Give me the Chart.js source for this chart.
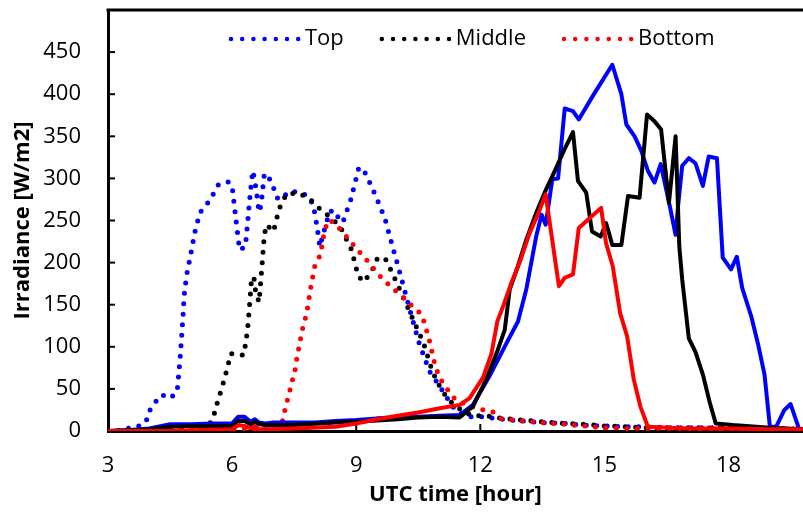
<!DOCTYPE html>
<html>
<head>
<meta charset="utf-8">
<title>Irradiance</title>
<script src="https://cdn.jsdelivr.net/npm/chart.js@4.4.1/dist/chart.umd.min.js"></script>
<style>
    html, body { margin: 0; padding: 0; background: #fff; }
    canvas { display: block; }
</style>
</head>
<body>
<canvas id="chart" width="803" height="513"></canvas>
<script>
// Axis ticks
const xTickValues = [3, 6, 9, 12, 15, 18];
const yTickValues = [0, 50, 100, 150, 200, 250, 300, 350, 400, 450];

// Dotted series (legend: Top / Middle / Bottom)
const topDotX = [3, 3.3, 3.53, 3.75, 3.92, 3.99, 4.14, 4.3, 4.5, 4.67, 4.74, 4.81, 4.84, 4.9, 5.0, 5.1, 5.22, 5.4, 5.54, 5.66, 5.9, 6.0, 6.06, 6.12, 6.18, 6.32, 6.38, 6.44, 6.5, 6.55, 6.6, 6.65, 6.7, 6.78, 6.9, 7.0, 7.08, 7.19, 7.35, 7.64, 7.83, 7.96, 8.05, 8.12, 8.22, 8.36, 8.51, 8.6, 8.7, 8.87, 9.06, 9.16, 9.28, 9.49, 9.69, 9.89, 10.1, 10.3, 10.51, 10.68, 10.8, 10.97, 11.2, 11.42, 11.74, 12.02, 12.5, 13, 13.5, 14, 14.5, 15, 15.5, 16, 16.5, 17, 17.5, 18, 18.5, 19, 19.5, 19.8];
const topDotY = [0, 0, 4, 6, 11, 23, 34, 43, 39, 46, 84, 134, 160, 185, 210, 236, 259, 270, 281, 292, 296, 291, 265, 240, 215, 219, 250, 283, 309, 297, 280, 260, 268, 306, 300, 289, 277, 275, 284, 284, 279, 269, 244, 219, 237, 261, 261, 248, 251, 275, 312, 312, 300, 277, 253, 217, 180, 143, 106, 83, 68, 57, 39, 23, 17, 17, 14, 12, 10, 9, 7, 6, 5, 5, 4, 4, 4, 3, 3, 3, 2, 2];

const midDotX = [3, 4, 5, 5.4, 5.54, 5.62, 5.72, 5.81, 5.89, 5.97, 6.28, 6.33, 6.37, 6.4, 6.45, 6.47, 6.53, 6.57, 6.65, 6.68, 6.73, 6.78, 6.83, 7.0, 7.08, 7.17, 7.32, 7.64, 7.91, 8.14, 8.4, 8.62, 8.89, 8.97, 9.05, 9.18, 9.37, 9.5, 9.69, 9.83, 10.1, 10.37, 10.63, 10.82, 10.94, 11.1, 11.3, 11.54, 11.8, 12.15, 12.5, 13, 13.5, 14, 14.5, 15, 15.5, 16, 17, 18, 19, 19.8];
const midDotY = [0, 1, 2, 4, 15, 30, 46, 61, 76, 92, 90, 105, 119, 136, 167, 183, 181, 165, 153, 170, 201, 233, 245, 237, 253, 268, 282, 282, 274, 263, 253, 242, 215, 199, 184, 177, 189, 204, 206, 192, 163, 133, 104, 74, 60, 46, 34, 25, 18, 18, 15, 13, 11, 9, 8, 6, 5, 4, 4, 3, 3, 2];

const botDotX = [3, 4, 5, 6, 6.5, 7, 7.2, 7.28, 7.36, 7.44, 7.52, 7.57, 7.63, 7.69, 7.77, 7.84, 7.88, 7.94, 8.0, 8.14, 8.19, 8.25, 8.36, 8.59, 8.8, 9.0, 9.22, 9.42, 9.63, 9.87, 10.1, 10.34, 10.59, 10.68, 10.77, 10.84, 10.91, 11.03, 11.21, 11.4, 11.7, 11.98, 12.29, 12.5, 13, 13.5, 14, 14.5, 15, 15.5, 16, 17, 18, 19, 19.8];
const botDotY = [0, 1, 1, 2, 2, 3, 8, 26, 41, 57, 72, 88, 103, 119, 134, 150, 165, 181, 196, 210, 226, 241, 251, 241, 229, 217, 205, 193, 181, 170, 160, 149, 138, 123, 107, 92, 77, 62, 49, 37, 30, 26, 23, 15, 12, 10, 8, 6, 4, 3, 3, 3, 2, 2, 1];

// Solid series (same colours, not in legend)
const topSolX = [3, 3.5, 4, 4.3, 4.5, 5, 5.5, 6.0, 6.15, 6.3, 6.45, 6.55, 6.65, 6.8, 7, 8, 8.5, 9, 9.5, 10, 10.5, 11, 11.5, 11.82, 12.22, 12.63, 12.91, 13.11, 13.35, 13.48, 13.58, 13.74, 13.88, 14.04, 14.24, 14.38, 14.72, 15.19, 15.41, 15.53, 15.73, 15.89, 16.05, 16.21, 16.36, 16.58, 16.72, 16.78, 16.88, 17.04, 17.2, 17.38, 17.52, 17.72, 17.86, 18.06, 18.2, 18.33, 18.55, 18.71, 18.87, 19.0, 19.15, 19.35, 19.5, 19.7, 19.8];
const topSolY = [0, 1, 3, 6, 8, 8, 9, 9, 17, 17, 11, 14, 10, 9, 10, 10, 12, 13, 15, 16, 17, 18, 19, 31, 65, 104, 130, 168, 231, 257, 245, 299, 300, 383, 380, 370, 398, 435, 400, 364, 350, 333, 309, 295, 317, 267, 233, 267, 315, 324, 318, 291, 326, 324, 206, 192, 207, 170, 136, 104, 67, 5, 5, 25, 32, 3, 2];

const midSolX = [3, 4, 4.5, 5, 6, 6.15, 6.3, 6.45, 6.55, 6.65, 6.8, 7.5, 8.5, 9, 10, 10.5, 11, 11.5, 11.82, 12.14, 12.42, 12.59, 12.71, 12.91, 13.11, 13.35, 13.59, 13.8, 14.04, 14.24, 14.36, 14.56, 14.7, 14.91, 15.04, 15.19, 15.41, 15.57, 15.85, 16.03, 16.21, 16.37, 16.56, 16.72, 16.81, 16.88, 17.04, 17.2, 17.38, 17.54, 17.69, 18.1, 19, 19.8];
const midSolY = [0, 2, 5, 6, 6, 12, 12, 8, 11, 8, 7, 7, 10, 11, 14, 16, 17, 16, 29, 61, 96, 120, 168, 196, 227, 259, 287, 309, 335, 355, 297, 283, 237, 231, 247, 221, 221, 279, 277, 376, 368, 358, 271, 350, 219, 180, 110, 94, 67, 35, 9, 7, 4, 2];

const botSolX = [3, 4.5, 5, 6, 6.15, 6.3, 6.45, 6.55, 6.65, 6.8, 7.5, 8.5, 9, 9.5, 10, 10.5, 11.02, 11.5, 11.74, 12.07, 12.27, 12.41, 12.55, 12.75, 12.95, 13.19, 13.39, 13.58, 13.72, 13.9, 14.04, 14.24, 14.38, 14.56, 14.92, 15.04, 15.2, 15.38, 15.55, 15.71, 15.87, 16.05, 17, 18, 19, 19.8];
const botSolY = [0, 0, 1, 2, 7, 6, 3, 6, 2, 2, 3, 5, 9, 14, 18, 22, 27, 31, 39, 64, 92, 130, 148, 176, 200, 235, 257, 281, 233, 172, 182, 186, 241, 249, 265, 223, 196, 140, 112, 61, 29, 5, 3, 3, 2, 2];

const COLORS = {
    top: '#0000ff',
    middle: '#000000',
    bottom: '#ff0000'
};

const FONT = '"Open Sans", sans-serif';

function points(xs, ys) {
    return xs.map((x, i) => ({ x: x, y: ys[i] }));
}

function dotted(label, xs, ys, color, order) {
    return {
        label: label,
        data: points(xs, ys),
        borderColor: color,
        backgroundColor: color,
        borderWidth: 5,
        borderDash: [0, 10.5],
        borderCapStyle: 'round',
        pointRadius: 0,
        tension: 0,
        order: order,
        inLegend: true
    };
}

function solid(xs, ys, color, order) {
    return {
        label: '',
        data: points(xs, ys),
        borderColor: color,
        backgroundColor: color,
        borderWidth: 4,
        borderJoinStyle: 'round',
        pointRadius: 0,
        tension: 0,
        order: order,
        inLegend: false
    };
}

/**
 * Inward tick marks, top frame line and the in-plot legend
 */
const frameLegend = {
    id: 'frameLegend',
    beforeDatasetsDraw(chart) {
        const { ctx, chartArea, scales } = chart;
        ctx.save();
        ctx.strokeStyle = '#000';
        ctx.lineWidth = 2;
        xTickValues.forEach(v => {
            const px = scales.x.getPixelForValue(v);
            ctx.beginPath();
            ctx.moveTo(px, chartArea.bottom);
            ctx.lineTo(px, chartArea.bottom - 7);
            ctx.stroke();
        });
        yTickValues.forEach(v => {
            const py = scales.y.getPixelForValue(v);
            ctx.beginPath();
            ctx.moveTo(chartArea.left, py);
            ctx.lineTo(chartArea.left + 7, py);
            ctx.stroke();
        });
        ctx.restore();
    },
    afterDraw(chart) {
        const { ctx, chartArea } = chart;
        ctx.save();
        // top frame
        ctx.strokeStyle = '#000';
        ctx.lineWidth = 3;
        ctx.beginPath();
        ctx.moveTo(chartArea.left - 1.5, chartArea.top);
        ctx.lineTo(chartArea.right, chartArea.top);
        ctx.stroke();

        // legend
        const legendY = chartArea.top + 29;
        const sampleLen = 68;
        let x = 231;
        ctx.font = '22px ' + FONT;
        ctx.textBaseline = 'middle';
        ctx.textAlign = 'left';
        chart.data.datasets.filter(ds => ds.inLegend).forEach(ds => {
            ctx.strokeStyle = ds.borderColor;
            ctx.lineWidth = 4.5;
            ctx.lineCap = 'round';
            ctx.setLineDash([0, 11.2]);
            ctx.beginPath();
            ctx.moveTo(x, legendY);
            ctx.lineTo(x + sampleLen, legendY);
            ctx.stroke();
            ctx.setLineDash([]);
            ctx.fillStyle = '#000';
            ctx.fillText(ds.label, x + sampleLen + 6, legendY);
            x += sampleLen + 6 + ctx.measureText(ds.label).width + 38;
        });
        ctx.restore();
    }
};

const ctx = document.getElementById('chart').getContext('2d');

new Chart(ctx, {
    type: 'line',
    data: {
        datasets: [
            dotted('Top', topDotX, topDotY, COLORS.top, 6),
            dotted('Middle', midDotX, midDotY, COLORS.middle, 5),
            dotted('Bottom', botDotX, botDotY, COLORS.bottom, 4),
            solid(topSolX, topSolY, COLORS.top, 3),
            solid(midSolX, midSolY, COLORS.middle, 2),
            solid(botSolX, botSolY, COLORS.bottom, 1)
        ]
    },
    options: {
        responsive: false,
        animation: false,
        layout: { padding: { top: 10, right: 0, left: 0, bottom: 0 } },
        plugins: {
            legend: { display: false },
            tooltip: { enabled: false }
        },
        scales: {
            x: {
                type: 'linear',
                min: 3,
                max: 19.8,
                afterBuildTicks: scale => { scale.ticks = xTickValues.map(v => ({ value: v })); },
                afterFit: scale => {
                    scale.height = 82;
                    scale.paddingRight = 0;
                },
                grid: { drawOnChartArea: false, drawTicks: false },
                border: { display: true, color: '#000', width: 3 },
                ticks: {
                    color: '#000',
                    padding: 22,
                    maxRotation: 0,
                    font: { family: FONT, size: 22 }
                },
                title: {
                    display: true,
                    text: 'UTC time [hour]',
                    color: '#000',
                    padding: { top: 0, bottom: 5 },
                    font: { family: FONT, size: 22, weight: 'bold' }
                }
            },
            y: {
                min: 0,
                max: 500,
                afterBuildTicks: scale => { scale.ticks = yTickValues.map(v => ({ value: v })); },
                afterFit: scale => {
                    scale.width = 108;
                    scale.paddingTop = 0;
                    scale.paddingBottom = 0;
                },
                grid: { drawOnChartArea: false, drawTicks: false },
                border: { display: true, color: '#000', width: 3 },
                ticks: {
                    color: '#000',
                    padding: 27,
                    font: { family: FONT, size: 22 }
                },
                title: {
                    display: true,
                    text: 'Irradiance [W/m2]',
                    color: '#000',
                    padding: { top: 10, bottom: 0 },
                    font: { family: FONT, size: 22, weight: 'bold' }
                }
            }
        }
    },
    plugins: [frameLegend]
});
</script>
</body>
</html>
